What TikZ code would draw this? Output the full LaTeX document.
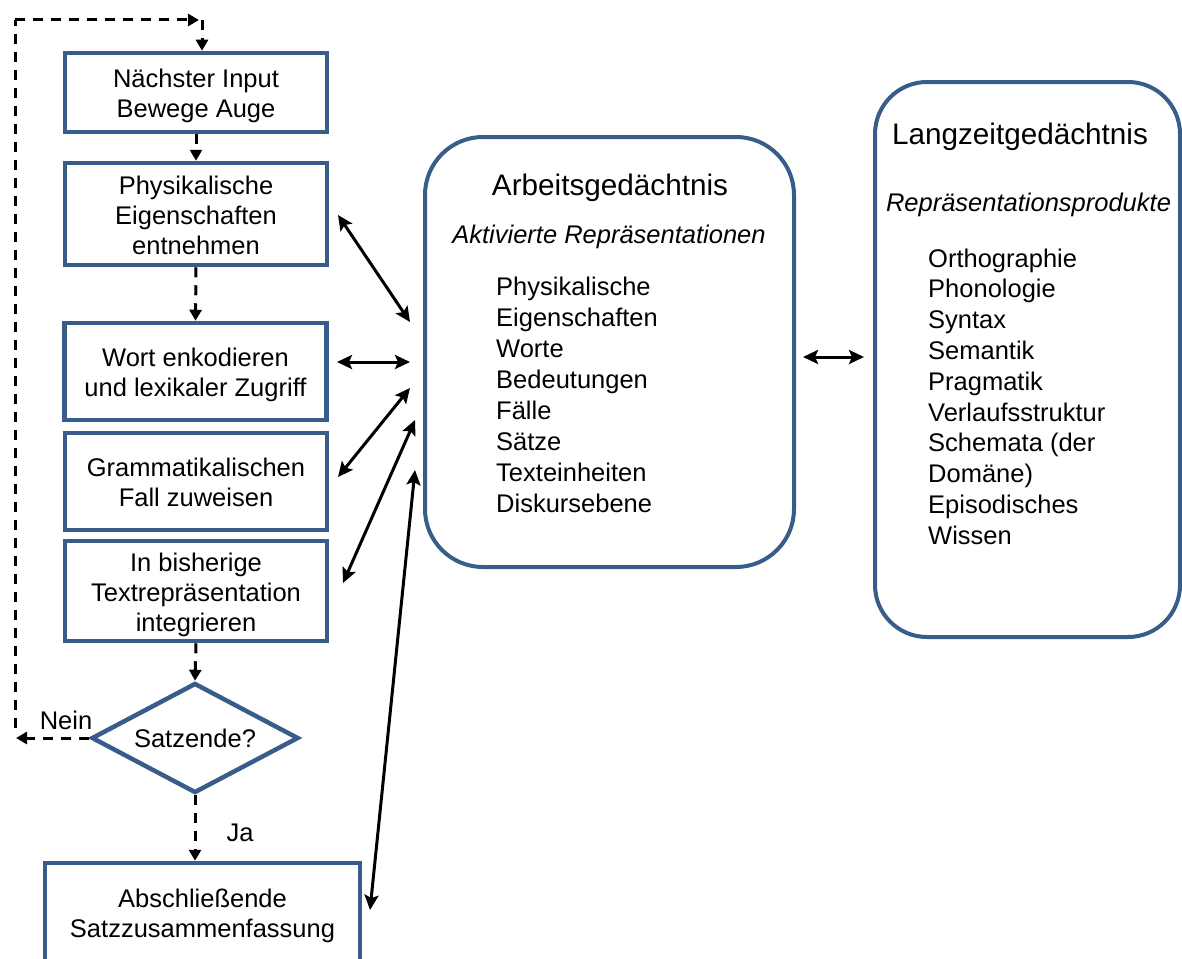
\documentclass[tikz,border=0pt]{standalone}
\usepackage{fontspec}
\setmainfont{Liberation Sans}
\usetikzlibrary{arrows.meta,shapes.geometric,calc}
\definecolor{boxblue}{RGB}{56,93,138}
% struts that fix the height of the first and the depth of the last line
\newcommand\tstr{\rule{0pt}{27pt}}
\newcommand\bstr{\rule[-6.5pt]{0pt}{6.5pt}}
\begin{document}
\begin{tikzpicture}[x=1pt,y=-1pt,
  bodyfont/.style={font=\fontsize{25.5}{30}\selectfont},
  stepbox/.style={draw=boxblue,line width=4.5pt,minimum width=262pt,align=center,
    inner sep=0pt,bodyfont},
  decision/.style={diamond,draw=boxblue,line width=4.5pt,minimum width=207pt,
    minimum height=110pt,aspect=1.88,inner sep=0pt,bodyfont},
  memory/.style={draw=boxblue,line width=4pt,rounded corners=58pt,inner sep=0pt},
  titletext/.style={inner sep=0pt,font=\fontsize{29.7}{34}\selectfont},
  subtext/.style={inner sep=0pt,font=\fontsize{25.5}{30}\selectfont\itshape},
  listtext/.style={inner sep=0pt,anchor=west,align=left},
  label/.style={inner sep=0pt,bodyfont},
  flow/.style={line width=3pt,dash pattern=on 10pt off 8pt,
    -{Triangle[length=11pt,width=12pt]}},
  loopline/.style={line width=3pt,dash pattern=on 10pt off 8pt},
  link/.style={line width=3pt,
    {Stealth[length=15pt,width=14pt,inset=3pt]}-{Stealth[length=15pt,width=14pt,inset=3pt]}}
]
\useasboundingbox (0,0) rectangle (1182,958);

% processing steps
\node[stepbox,minimum height=79pt]  (input) at (196,92.5) {\tstr Nächster Input\\Bewege Auge\bstr};
\node[stepbox,minimum height=102pt] (phys)  at (196,214) {\tstr Physikalische\\Eigenschaften\\entnehmen\bstr};
\node[stepbox,minimum height=97pt]  (word)  at (195.5,371.5) {\tstr Wort enkodieren\\und lexikaler Zugriff\bstr};
\node[stepbox,minimum height=97pt]  (case)  at (196,481.5) {\tstr Grammatikalischen\\Fall zuweisen\bstr};
\node[stepbox,minimum height=100pt] (integ) at (196,591) {\tstr In bisherige\\Textrepräsentation\\integrieren\bstr};
\node[decision] (end) at (195,738) {Satzende?};
\node[stepbox,minimum width=315pt,minimum height=99pt] (final) at (202.5,912.5)
  {\tstr Abschließende\\Satzzusammenfassung\bstr};

\node[label] (nein) at (66,720) {Nein};
\node[label] (ja) at (240,833) {Ja};

% working memory
\node[memory,minimum width=369pt,minimum height=430pt] (wm) at (609.5,352) {};
\node[titletext] (wmtitle) at (610,188) {Arbeitsgedächtnis};
\node[subtext] (wmsub) at (609,237) {Aktivierte Repräsentationen};
\node[listtext,font=\fontsize{25.5}{30.9}\selectfont] (wmlist) at (496,395)
  {Physikalische\\Eigenschaften\\Worte\\Bedeutungen\\Fälle\\Sätze\\Texteinheiten\\Diskursebene};

% long-term memory
\node[memory,rounded corners=52pt,minimum width=305pt,minimum height=555pt] (ltm) at (1027.5,359.5) {};
\node[titletext] (ltmtitle) at (1020,137) {Langzeitgedächtnis};
\node[subtext] (ltmsub) at (1028.5,205) {Repräsentationsprodukte};
\node[listtext,font=\fontsize{25.5}{30.8}\selectfont] (ltmlist) at (928,396.5)
  {Orthographie\\Phonologie\\Syntax\\Semantik\\Pragmatik\\Verlaufsstruktur\\Schemata (der\\Domäne)\\Episodisches\\Wissen};

% flow of the steps
\draw[flow] (input.south) -- (phys.north);
\draw[flow] (phys.south) -- (word.north);
\draw[flow] (integ.south) -- (end.north);
\draw[flow] (end.south) -- (end.south |- final.north);

% loop back to the next input
\coordinate (neinend) at (16,738);
\coordinate (loopB) at (15,728);
\coordinate (loopT) at (15,20);
\coordinate (loopR) at (199,20);
\coordinate (drop) at (202,20);
\draw[flow] (end.west) -- (neinend);
\draw[loopline] (loopB) -- (loopT);
\draw[flow] (loopT) -- (loopR);
\draw[flow] (drop) -- (drop |- input.north);

% exchange with working memory
\coordinate (a1s) at (338,215);  \coordinate (a1e) at (410,322);
\coordinate (a2s) at (337,362);  \coordinate (a2e) at (410,362);
\coordinate (a3s) at (338,477);  \coordinate (a3e) at (410,388);
\coordinate (a4s) at (343,583);  \coordinate (a4e) at (415,420);
\coordinate (a5s) at (370,910);  \coordinate (a5e) at (415,470);
\coordinate (a6s) at (803,357);  \coordinate (a6e) at (864,357);
\draw[link] (a1s) -- (a1e);
\draw[link] (a2s) -- (a2e);
\draw[link] (a3s) -- (a3e);
\draw[link] (a4s) -- (a4e);
\draw[link] (a5s) -- (a5e);
\draw[link] (a6s) -- (a6e);
\end{tikzpicture}
\end{document}
